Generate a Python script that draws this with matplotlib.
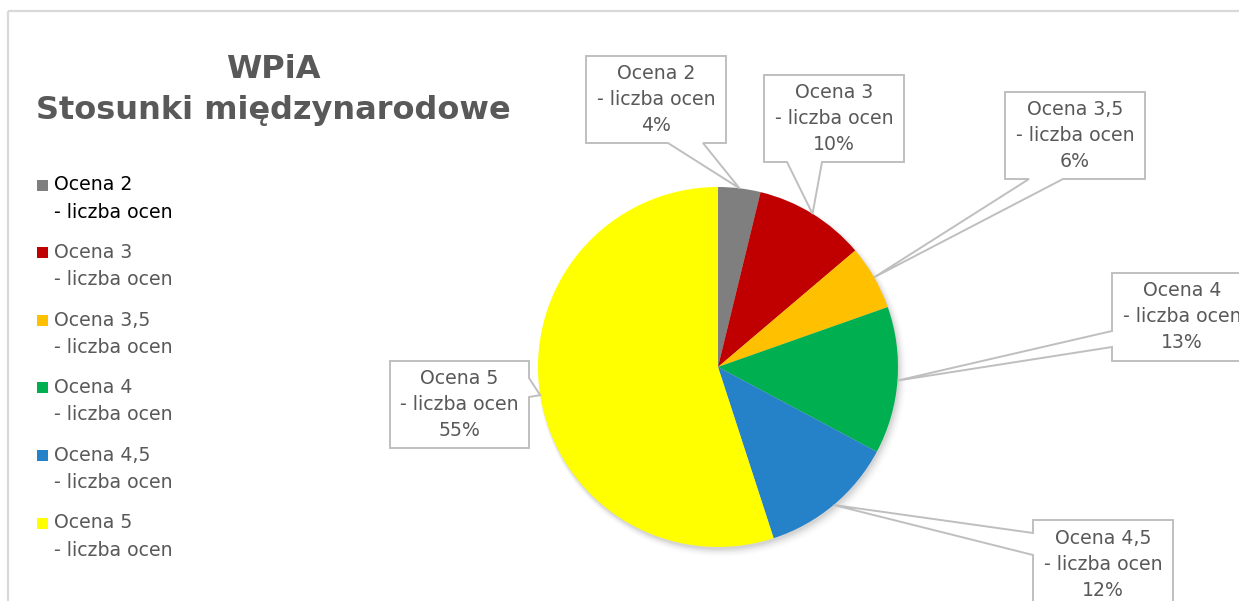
import matplotlib
matplotlib.use("Agg")
import matplotlib.pyplot as plt
from matplotlib.patches import Polygon, Rectangle, Circle
import numpy as np

# ---- data ----
categories = ["Ocena 2", "Ocena 3", "Ocena 3,5", "Ocena 4", "Ocena 4,5", "Ocena 5"]
series_name = "- liczba ocen"
shares = [3.8, 10.0, 5.8, 13.2, 12.2, 55.0]
colors = ["#7f7f7f", "#c00000", "#ffc000", "#00b050", "#2682c8", "#ffff00"]
title_lines = ["WPiA", "Stosunki międzynarodowe"]

FONT = ["DejaVu Sans"]
TXT = "#595959"
W, H = 1239, 601

fig = plt.figure(figsize=(W / 100, H / 100), dpi=100)
fig.patch.set_facecolor("white")

# overlay axes in pixel coordinates (y down)
ov = fig.add_axes([0, 0, 1, 1], zorder=5)
ov.set_xlim(0, W)
ov.set_ylim(H, 0)
ov.axis("off")
ov.patch.set_alpha(0)

# chart frame
ov.add_patch(Rectangle((8, 11), W, H, fill=False, edgecolor="#d9d9d9", lw=1.6, zorder=1))

# pie
cx, cy, R = 718, 367, 180
pax = fig.add_axes([(cx - R) / W, (H - cy - R) / H, 2 * R / W, 2 * R / H], zorder=3)
# soft shadow
for i, a in enumerate(np.linspace(0.045, 0.01, 6)):
    c = Circle((0.008 + 0.003 * i, -0.014 - 0.003 * i), 1.0 + 0.005 * i,
               facecolor="black", alpha=a, lw=0, zorder=0)
    c.set_clip_on(False)
    pax.add_patch(c)
wedges, _ = pax.pie(shares, colors=colors, startangle=90, counterclock=False,
                    radius=1.0, wedgeprops=dict(linewidth=0))
for w in wedges:
    w.set_zorder(2)
pax.set_xlim(-1, 1)
pax.set_ylim(-1, 1)
pax.axis("off")

# title
ov.text(273, 69, title_lines[0], ha="center", va="center", fontsize=23,
        fontweight="bold", color=TXT, family=FONT)
ov.text(273, 111, title_lines[1], ha="center", va="center", fontsize=23,
        fontweight="bold", color=TXT, family=FONT)

# legend (manual)
leg_y0, leg_dy = 185, 67.6
for i, (cat, col) in enumerate(zip(categories, colors)):
    y = leg_y0 + i * leg_dy
    ov.add_patch(Rectangle((37, y - 5.5), 11, 11, facecolor=col, lw=0))
    tc = "black" if i == 0 else TXT
    ov.text(54, y, cat, ha="left", va="center", fontsize=13.6, color=tc, family=FONT)
    ov.text(54, y + 27, series_name, ha="left", va="center", fontsize=13.6, color=tc, family=FONT)

# callouts: box (x0, y0, x1, y1), tail side and base span
boxes = [
    ((586, 56, 726, 143), "bottom", (668, 703)),
    ((764, 75, 904, 162), "bottom", (787, 822)),
    ((1005, 92, 1145, 179), "bottom", (1029, 1063)),
    ((1112, 273, 1252, 361), "left", (331, 347)),
    ((1033, 520, 1173, 608), "left", (533, 555)),
    ((390, 361, 529, 448), "right", (378, 397)),
]

to_ov = ov.transData.inverted()
fig.canvas.draw()
for w, cat, val, (box, side, base) in zip(wedges, categories, shares, boxes):
    mid = np.deg2rad((w.theta1 + w.theta2) / 2)
    tip_disp = pax.transData.transform((np.cos(mid), np.sin(mid)))
    tx, ty = to_ov.transform(tip_disp)
    x0, y0, x1, y1 = box
    b0, b1 = base
    if side == "bottom":
        verts = [(x0, y0), (x1, y0), (x1, y1), (b1, y1), (tx, ty), (b0, y1), (x0, y1)]
    elif side == "left":
        verts = [(x0, y0), (x1, y0), (x1, y1), (x0, y1), (x0, b1), (tx, ty), (x0, b0)]
    else:
        verts = [(x0, y0), (x1, y0), (x1, b0), (tx, ty), (x1, b1), (x1, y1), (x0, y1)]
    ov.add_patch(Polygon(verts, closed=True, facecolor="white", edgecolor="#bfbfbf",
                         lw=1.4, zorder=6))
    xc, yc = (x0 + x1) / 2, (y0 + y1) / 2
    txt = f"{cat}\n{series_name}\n{round(val / sum(shares) * 100):.0f}%"
    for k, line in enumerate(txt.split("\n")):
        ov.text(xc, yc - 26 + 26 * k, line, ha="center", va="center", fontsize=13.6,
                color=TXT, family=FONT, zorder=7)

fig.savefig("out.png", dpi=100)
